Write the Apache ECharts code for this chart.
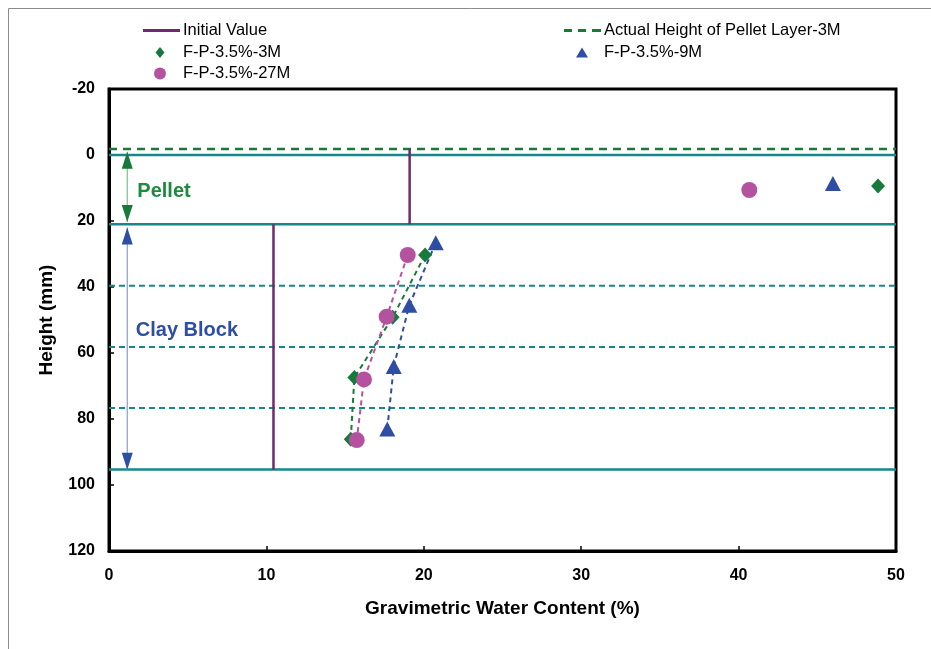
<!DOCTYPE html>
<html>
<head>
<meta charset="utf-8">
<script src="https://cdn.jsdelivr.net/npm/echarts@6/dist/echarts.min.js"></script>
<style>
  html, body { margin: 0; padding: 0; background: #fff; }
  #chart { width: 931px; height: 649px; }
</style>
</head>
<body>
<div id="chart"></div>
<script>
// Water content profiles (x: gravimetric water content %, y: height mm)
const fp3M  = [[48.86, 9.4], [20.08, 30.3], [18.02, 49.2], [15.59, 67.4], [15.36, 86.1]];
const fp9M  = [[45.99, 8.6], [20.76, 26.6], [19.08, 45.5], [18.09, 64.1], [17.68, 83.0]];
const fp27M = [[40.68, 10.6], [18.98, 30.3], [17.64, 49.0], [16.20, 68.0], [15.74, 86.4]];

// Initial water content of pellet layer and clay block
const initialPellet = [[19.1, -1.8], [19.1, 21]];
const initialBlock  = [[10.45, 21], [10.45, 95.3]];

// Actual pellet layer top after 3 months
const actualPelletTop = -1.8;

// Layer boundaries (mm)
const layerSolid  = [0, 21, 95.3];
const layerDashed = [39.6, 58.2, 76.7];

// Layer annotation ranges
const pelletRange = [-1, 20.3];
const blockRange  = [22, 95.4];
const rangeX = 1.16;

const xTicks = { min: 0, max: 50, interval: 10 };
const yTicks = { min: -20, max: 120, interval: 20 };

const FONT = 'Liberation Sans, Arial, sans-serif';
const C = {
  green: '#177a3a', blue: '#2d4ea3', pink: '#b4529f', purple: '#6e2a6c',
  teal: '#15898a', pelletGreen: '#1d8a3e', greenShaft: '#7cbf8c', blueShaft: '#8b9bd2'
};

function hLines(values) {
  const out = [];
  values.forEach((v, i) => {
    if (i > 0) out.push('-');
    out.push([xTicks.min, v], [xTicks.max, v]);
  });
  return out;
}
function clayPart(arr) { return arr.slice(1); }

const chart = echarts.init(document.getElementById('chart'));

const legendText = { fontFamily: FONT, fontSize: 16.5, color: '#000' };
const solidIcon  = 'path://M0,0h37v3h-37z';
const dashedIcon = 'path://M0,0h8v3h-8z M14,0h8v3h-8z M28,0h9v3h-9z';

function lineLegend(left, top, name, icon, color) {
  return {
    left: left, top: top, padding: 0, selectedMode: false,
    itemWidth: 37, itemHeight: 3, symbolKeepAspect: false,
    textStyle: Object.assign({ padding: [0, 0, 0, -2] }, legendText),
    data: [{ name: name, icon: icon, itemStyle: { color: color } }]
  };
}
// marker centred at cx, text starting at tx
function markerLegend(cx, tx, top, name, icon, w, h) {
  const left = cx - w / 2;
  return {
    left: left, top: top, padding: 0, selectedMode: false,
    itemWidth: w, itemHeight: h, symbolKeepAspect: false,
    textStyle: Object.assign({ padding: [0, 0, 0, tx - (left + w + 5)] }, legendText),
    data: [{ name: name, icon: icon }]
  };
}

const option = {
  animation: false,
  backgroundColor: '#fff',
  graphic: [{
    type: 'rect', silent: true,
    shape: { x: 8.5, y: 8.5, width: 960, height: 700 },
    style: { fill: 'none', stroke: '#8c8c8c', lineWidth: 1 }
  }],
  legend: [
    lineLegend(143, 22, 'Initial Value', solidIcon, C.purple),
    lineLegend(564, 22, 'Actual Height of Pellet Layer-3M', dashedIcon, C.green),
    markerLegend(160, 183, 44, 'F-P-3.5%-3M', 'diamond', 9, 11),
    markerLegend(160, 183, 65, 'F-P-3.5%-27M', 'circle', 12, 12),
    markerLegend(582, 604, 44, 'F-P-3.5%-9M', 'triangle', 12, 10)
  ],
  grid: {
    left: 109, top: 89, right: 35, bottom: 98,
    show: true, borderColor: '#000', borderWidth: 3, backgroundColor: 'transparent'
  },
  xAxis: {
    type: 'value', min: xTicks.min, max: xTicks.max, interval: xTicks.interval,
    name: 'Gravimetric Water Content (%)', nameLocation: 'middle', nameGap: 48,
    nameTextStyle: { fontFamily: FONT, fontSize: 19, fontWeight: 'bold', color: '#000' },
    axisLine: { show: true, onZero: false, lineStyle: { color: '#000', width: 3 } },
    axisTick: { show: true, inside: true, length: 5, lineStyle: { color: '#000', width: 1.5 } },
    axisLabel: { margin: 17, fontFamily: FONT, fontSize: 16, fontWeight: 'bold', color: '#000' },
    splitLine: { show: false }
  },
  yAxis: {
    type: 'value', inverse: true, min: yTicks.min, max: yTicks.max, interval: yTicks.interval,
    name: 'Height (mm)', nameLocation: 'middle', nameGap: 53, nameRotate: 90,
    nameTextStyle: { fontFamily: FONT, fontSize: 19, fontWeight: 'bold', color: '#000' },
    axisLine: { show: true, onZero: false, lineStyle: { color: '#000', width: 3 } },
    axisTick: { show: true, inside: true, length: 5, lineStyle: { color: '#000', width: 1.5 } },
    axisLabel: { margin: 14, fontFamily: FONT, fontSize: 16, fontWeight: 'bold', color: '#000' },
    splitLine: { show: false }
  },
  series: [
    // layer boundaries
    { type: 'line', silent: true, symbol: 'none', data: hLines(layerSolid),
      lineStyle: { color: C.teal, width: 2.5 }, z: 2 },
    { type: 'line', silent: true, symbol: 'none', data: hLines(layerDashed),
      lineStyle: { color: C.teal, width: 2, type: [6, 4] }, z: 2 },
    // actual pellet layer top
    { name: 'Actual Height of Pellet Layer-3M', type: 'line', symbol: 'none',
      data: [[xTicks.min, actualPelletTop], [xTicks.max, actualPelletTop]],
      lineStyle: { color: C.green, width: 2.5, type: [8, 6] }, itemStyle: { color: C.green }, z: 3 },
    // initial water content
    { name: 'Initial Value', type: 'line', symbol: 'none', connectNulls: false,
      data: initialPellet.concat(['-'], initialBlock),
      lineStyle: { color: C.purple, width: 2.5 }, itemStyle: { color: C.purple }, z: 3 },
    // layer annotation shafts
    { type: 'line', silent: true, symbol: 'none',
      data: [[rangeX, pelletRange[0]], [rangeX, pelletRange[1]]],
      lineStyle: { color: C.greenShaft, width: 1.2 }, z: 3 },
    { type: 'line', silent: true, symbol: 'none',
      data: [[rangeX, blockRange[0]], [rangeX, blockRange[1]]],
      lineStyle: { color: C.blueShaft, width: 1.2 }, z: 3 },
    // arrow heads
    { type: 'scatter', silent: true, symbol: 'triangle', symbolSize: [11, 17],
      itemStyle: { opacity: 1 },
      data: [
        { value: [rangeX, pelletRange[0]], symbolOffset: [0, 8.5], itemStyle: { color: C.green, opacity: 1 } },
        { value: [rangeX, pelletRange[1]], symbolRotate: 180, symbolOffset: [0, -8.5], itemStyle: { color: C.green, opacity: 1 } },
        { value: [rangeX, blockRange[0]], symbolOffset: [0, 8.5], itemStyle: { color: C.blue, opacity: 1 } },
        { value: [rangeX, blockRange[1]], symbolRotate: 180, symbolOffset: [0, -8.5], itemStyle: { color: C.blue, opacity: 1 } }
      ], z: 4 },
    // layer labels
    { type: 'scatter', silent: true, symbolSize: 0, itemStyle: { opacity: 1 },
      data: [
        { value: [1.8, 11.2], label: { formatter: 'Pellet', color: C.pelletGreen } },
        { value: [1.7, 53.3], label: { formatter: 'Clay Block', color: C.blue } }
      ],
      label: { show: true, position: 'right', distance: 0, fontFamily: FONT, fontSize: 20, fontWeight: 'bold' },
      z: 4 },
    // profile trend lines in the clay block
    { type: 'line', silent: true, symbol: 'none', data: clayPart(fp3M),
      lineStyle: { color: C.green, width: 2, type: [5, 4] }, z: 5 },
    { type: 'line', silent: true, symbol: 'none', data: clayPart(fp9M),
      lineStyle: { color: C.blue, width: 2, type: [5, 4] }, z: 5 },
    { type: 'line', silent: true, symbol: 'none', data: clayPart(fp27M),
      lineStyle: { color: C.pink, width: 2, type: [5, 4] }, z: 5 },
    // measured points
    { name: 'F-P-3.5%-3M', type: 'scatter', symbol: 'diamond', symbolSize: [14, 15],
      data: fp3M, itemStyle: { color: C.green, opacity: 1 }, z: 6 },
    { name: 'F-P-3.5%-9M', type: 'scatter', symbol: 'triangle', symbolSize: [16, 15],
      data: fp9M, itemStyle: { color: C.blue, opacity: 1 }, z: 6 },
    { name: 'F-P-3.5%-27M', type: 'scatter', symbol: 'circle', symbolSize: 16,
      data: fp27M, itemStyle: { color: C.pink, opacity: 1 }, z: 7 }
  ]
};

chart.setOption(option);
</script>
</body>
</html>
